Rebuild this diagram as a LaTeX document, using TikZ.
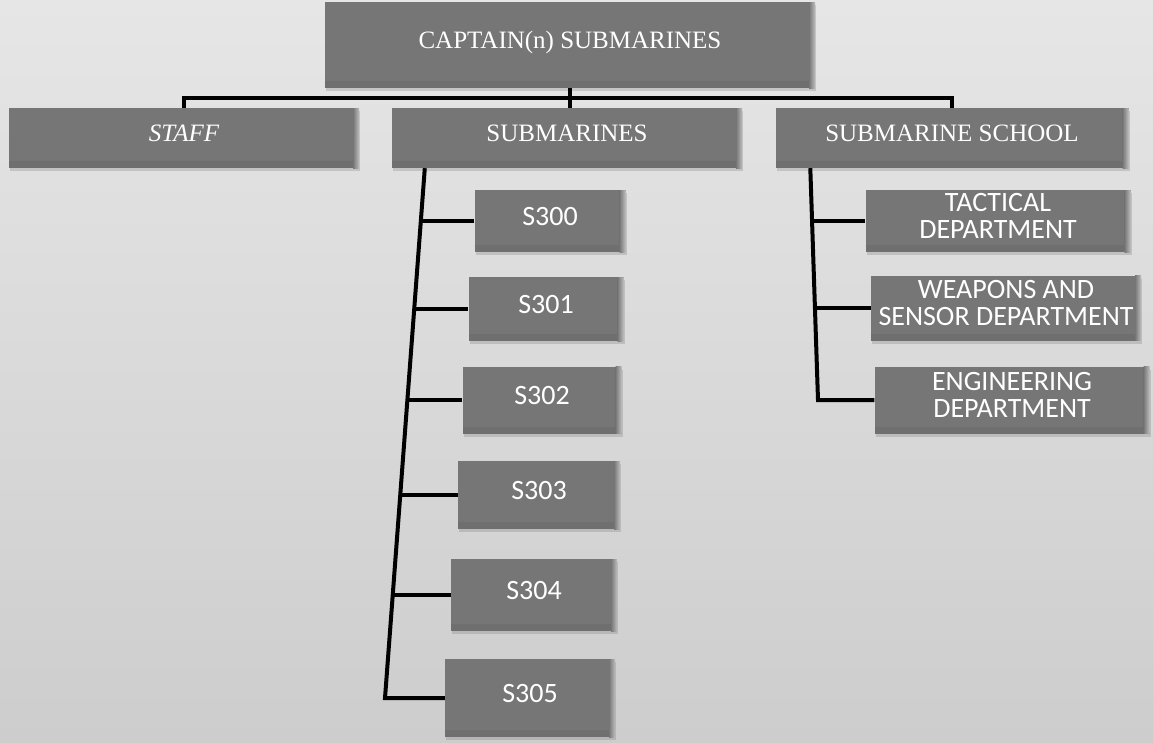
\documentclass[tikz,border=0pt]{standalone}
\usepackage{fontspec}
\setmainfont{Liberation Serif}
\newfontfamily\unitfont{Carlito}
\usepackage{tikz}
\usetikzlibrary{calc,shadows}

\definecolor{boxgray}{HTML}{767676}
\definecolor{boxband}{HTML}{6F6F6F}
\definecolor{boxlight}{HTML}{BDBDBD}
\definecolor{bgtop}{HTML}{E6E6E6}
\definecolor{bgbottom}{HTML}{CDCDCD}

\begin{document}
\begin{tikzpicture}[x=1pt,y=1pt]
    \tikzstyle{edge}=[line width=4pt,draw=black]
    \tikzstyle{box}=[
      rectangle,
      fill=boxgray,
      text=white,
      inner sep=0pt,
      text depth=10pt,
      align=center,
      drop shadow={opacity=0.3,shadow xshift=1pt,shadow yshift=-3pt},
      path picture={
        \fill[boxband] (path picture bounding box.south west) rectangle ([yshift=7pt]path picture bounding box.south east);
        \shade[left color=boxgray,right color=boxlight] ([xshift=-6pt]path picture bounding box.north east) rectangle (path picture bounding box.south east);
      },
    ]
    \tikzstyle{head}=[
      box,
      font=\fontsize{25}{28}\selectfont,
    ]
    \tikzstyle{unit}=[
      box,
      font=\unitfont\fontsize{28}{27}\selectfont,
    ]

    \coordinate (pageAnchor) at (0,0);
    \shade[top color=bgtop,bottom color=bgbottom] (pageAnchor) rectangle ([xshift=1153pt, yshift=-742pt] pageAnchor);
    \useasboundingbox (pageAnchor) rectangle ([xshift=1153pt, yshift=-742pt] pageAnchor);

    % top row
    {
      \node[head, minimum width=490pt, minimum height=86pt] (captain) at ([xshift=570pt, yshift=-45pt] pageAnchor) {CAPTAIN(n) SUBMARINES};

      \node[head, minimum width=350pt, minimum height=60pt] (staff) at ([xshift=184pt, yshift=-138pt] pageAnchor) {\itshape STAFF};
      \node[head, minimum width=350pt, minimum height=60pt] (subs) at ([xshift=567pt, yshift=-138pt] pageAnchor) {SUBMARINES};
      \node[head, minimum width=353pt, minimum height=60pt] (school) at ([xshift=952pt, yshift=-138pt] pageAnchor) {SUBMARINE SCHOOL};

      \coordinate (bus) at ($(captain.south)!0.5!(captain.south |- subs.north)$);
      \draw[edge] (captain.south) -- (captain.south |- subs.north);
      \draw[edge] (staff.north) |- (bus) -| (school.north);
    }

    % submarines
    {
      \node[unit, minimum width=151pt, minimum height=62pt] (s300) at ([xshift=550pt, yshift=-221pt] pageAnchor) {S300};
      \node[unit, minimum width=155pt, minimum height=64pt] (s301) at ([xshift=546pt, yshift=-309pt] pageAnchor) {S301};
      \node[unit, minimum width=159pt, minimum height=67pt] (s302) at ([xshift=542pt, yshift=-400pt] pageAnchor) {S302};
      \node[unit, minimum width=162pt, minimum height=68pt] (s303) at ([xshift=539pt, yshift=-495pt] pageAnchor) {S303};
      \node[unit, minimum width=166pt, minimum height=72pt] (s304) at ([xshift=534pt, yshift=-595pt] pageAnchor) {S304};
      \node[unit, minimum width=170pt, minimum height=78pt] (s305) at ([xshift=530pt, yshift=-698pt] pageAnchor) {S305};

      \coordinate (subsTop) at ([xshift=33pt] subs.south west);
      \coordinate (subsBot) at ([xshift=385pt, yshift=-698pt] pageAnchor);
      \draw[edge] (subsTop) -- (subsBot) -- (s305.west);
      \foreach \sub in {s300,s301,s302,s303,s304} {
        \coordinate (foot) at ($(subsTop)!(\sub.west)!(subsBot)$);
        \draw[edge] (\sub.west) -- (\sub.west -| foot);
      }
    }

    % school departments
    {
      \node[unit, minimum width=265pt, minimum height=62pt] (tactical) at ([xshift=998pt, yshift=-221pt] pageAnchor) {TACTICAL\\DEPARTMENT};
      \node[unit, minimum width=270pt, minimum height=65pt] (weapons) at ([xshift=1006pt, yshift=-308pt] pageAnchor) {WEAPONS AND\\SENSOR DEPARTMENT};
      \node[unit, minimum width=275pt, minimum height=67pt] (engineering) at ([xshift=1012pt, yshift=-400pt] pageAnchor) {ENGINEERING\\DEPARTMENT};

      \coordinate (schoolTop) at ([xshift=35pt] school.south west);
      \coordinate (schoolBot) at ([xshift=818pt, yshift=-400pt] pageAnchor);
      \draw[edge] (schoolTop) -- (schoolBot) -- (engineering.west);
      \foreach \dept in {tactical,weapons} {
        \coordinate (foot) at ($(schoolTop)!(\dept.west)!(schoolBot)$);
        \draw[edge] (\dept.west) -- (\dept.west -| foot);
      }
    }
  \end{tikzpicture}
\end{document}
